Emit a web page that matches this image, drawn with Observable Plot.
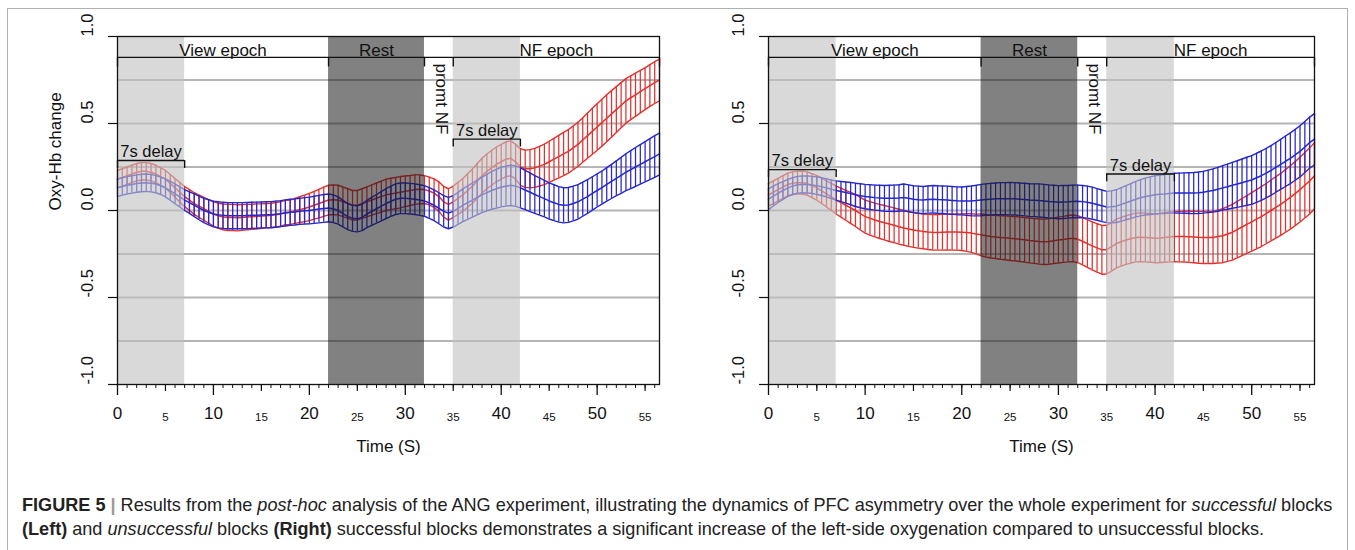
<!DOCTYPE html>
<html><head><meta charset="utf-8">
<script src="https://cdn.jsdelivr.net/npm/d3@7"></script>
<script src="https://cdn.jsdelivr.net/npm/@observablehq/plot@0.6"></script>
<style>
body{margin:0;background:#fff;}
#wrap{position:relative;width:1355px;height:550px;overflow:hidden;font-family:"Liberation Sans",Arial,sans-serif;background:#fff;}
#frame{position:absolute;left:7px;top:8px;width:1341px;height:620px;border:1.5px solid #b0b0b0;box-sizing:border-box;}
#left{position:absolute;left:0;top:0;}
#right{position:absolute;left:680px;top:0;}
#caption{position:absolute;left:22px;top:494px;font-size:18.1px;line-height:23.5px;color:#222;white-space:nowrap;}
#caption .sep{color:#9a9a9a;}
</style></head>
<body><div id="wrap"><div id="frame"></div><div id="left"></div><div id="right"></div>
<div id="caption"><b>FIGURE 5</b> <b class="sep">|</b> Results from the <i>post-hoc</i> analysis of the ANG experiment, illustrating the dynamics of PFC asymmetry over the whole experiment for <i>successful</i> blocks<br><b>(Left)</b> and <i>unsuccessful</i> blocks <b>(Right)</b> successful blocks demonstrates a significant increase of the left-side oxygenation compared to unsuccessful blocks.</div>
</div>
<script>
// ---- data (time in s, values = Oxy-Hb change; err = half-width of error bar) ----
const time = [
0,0.5,1,1.5,2,2.5,3,3.5,4,4.5,
5,5.5,6,6.5,7,7.5,8,8.5,9,9.5,
10,10.5,11,11.5,12,12.5,13,13.5,14,14.5,
15,15.5,16,16.5,17,17.5,18,18.5,19,19.5,
20,20.5,21,21.5,22,22.5,23,23.5,24,24.5,
25,25.5,26,26.5,27,27.5,28,28.5,29,29.5,
30,30.5,31,31.5,32,32.5,33,33.5,34,34.5,
35,35.5,36,36.5,37,37.5,38,38.5,39,39.5,
40,40.5,41,41.5,42,42.5,43,43.5,44,44.5,
45,45.5,46,46.5,47,47.5,48,48.5,49,49.5,
50,50.5,51,51.5,52,52.5,53,53.5,54,54.5,
55,55.5,56,56.5];

const leftRedMean = [
.18,.19,.20,.21,.22,.225,.225,.22,.21,.195,
.18,.155,.13,.105,.08,.06,.04,.025,.01,-.005,
-.02,-.03,-.037,-.04,-.04,-.042,-.04,-.038,-.036,-.034,
-.032,-.03,-.028,-.024,-.02,-.012,-.01,-.002,.005,.012,
.02,.03,.04,.05,.06,.062,.06,.05,.04,.03,
.03,.04,.05,.06,.07,.08,.09,.095,.10,.105,
.11,.115,.12,.122,.12,.112,.10,.08,.05,.035,
.05,.07,.09,.115,.14,.17,.20,.225,.245,.265,
.28,.295,.30,.28,.25,.24,.24,.245,.255,.265,
.28,.295,.31,.325,.34,.36,.38,.405,.43,.455,
.48,.505,.53,.555,.58,.605,.63,.648,.665,.683,
.70,.718,.735,.75];
const leftRedErr = [
.05,.05,.05,.05,.05,.05,.05,.05,.05,.05,
.05,.052,.054,.056,.058,.06,.062,.064,.066,.068,
.07,.072,.074,.075,.075,.075,.074,.073,.072,.072,
.07,.07,.07,.07,.07,.07,.07,.072,.074,.076,
.078,.08,.082,.084,.085,.085,.085,.085,.085,.085,
.085,.085,.086,.087,.088,.089,.09,.09,.09,.09,
.088,.086,.085,.083,.08,.08,.082,.085,.088,.09,
.09,.092,.094,.096,.098,.10,.10,.10,.10,.10,
.10,.10,.10,.10,.105,.107,.11,.112,.114,.116,
.118,.12,.122,.124,.125,.126,.127,.128,.13,.132,
.134,.135,.135,.134,.132,.13,.128,.126,.124,.122,
.12,.12,.12,.12];
const leftBlueMean = [
.13,.138,.145,.15,.155,.158,.16,.157,.152,.142,
.13,.113,.095,.078,.06,.045,.03,.015,.0,-.01,
-.02,-.025,-.028,-.03,-.03,-.03,-.03,-.029,-.028,-.027,
-.026,-.025,-.024,-.021,-.018,-.014,-.01,-.008,-.005,-.002,
.0,.004,.008,.012,.015,.01,.0,-.018,-.035,-.045,
-.048,-.04,-.02,-.005,.01,.025,.04,.053,.065,.07,
.07,.068,.065,.06,.055,.043,.03,.013,-.005,-.015,
-.005,.012,.03,.045,.06,.075,.09,.103,.115,.125,
.135,.14,.145,.14,.13,.118,.105,.092,.08,.068,
.055,.045,.035,.03,.032,.04,.05,.065,.08,.098,
.115,.132,.15,.167,.185,.202,.22,.235,.25,.265,
.28,.295,.31,.325];
const leftBlueErr = [
.05,.05,.05,.05,.05,.05,.05,.05,.05,.05,
.052,.054,.056,.058,.06,.062,.065,.068,.07,.072,
.074,.075,.075,.075,.075,.075,.075,.075,.075,.075,
.075,.075,.075,.075,.075,.075,.075,.075,.075,.076,
.077,.078,.079,.08,.08,.08,.078,.076,.075,.075,
.075,.076,.078,.08,.082,.084,.086,.087,.088,.088,
.088,.088,.088,.088,.088,.088,.088,.089,.09,.09,
.09,.092,.094,.096,.098,.10,.102,.105,.108,.111,
.114,.115,.116,.116,.115,.113,.111,.109,.107,.105,
.104,.103,.102,.101,.10,.10,.099,.098,.097,.096,
.095,.095,.096,.098,.10,.103,.106,.109,.112,.114,
.116,.118,.12,.12];

const rightRedMean = [
.09,.105,.12,.135,.15,.157,.16,.16,.155,.143,
.13,.113,.095,.078,.06,.045,.03,.015,.0,-.018,
-.035,-.045,-.055,-.063,-.07,-.078,-.085,-.093,-.10,-.106,
-.112,-.116,-.12,-.123,-.125,-.126,-.125,-.124,-.124,-.124,
-.125,-.127,-.13,-.135,-.14,-.145,-.15,-.152,-.155,-.157,
-.16,-.162,-.165,-.168,-.172,-.175,-.178,-.18,-.178,-.174,
-.17,-.166,-.162,-.16,-.165,-.177,-.19,-.203,-.215,-.226,
-.225,-.208,-.19,-.18,-.17,-.162,-.155,-.154,-.155,-.157,
-.16,-.158,-.155,-.152,-.15,-.15,-.15,-.151,-.152,-.154,
-.155,-.155,-.155,-.15,-.145,-.135,-.125,-.11,-.095,-.08,
-.065,-.05,-.035,-.018,.0,.018,.035,.055,.075,.097,
.12,.145,.17,.2];
const rightRedErr = [
.065,.065,.065,.065,.065,.065,.065,.066,.067,.069,
.071,.073,.075,.078,.08,.083,.086,.089,.092,.094,
.095,.096,.097,.098,.099,.10,.10,.10,.10,.10,
.10,.10,.10,.101,.102,.102,.103,.103,.104,.104,
.105,.108,.111,.114,.12,.122,.123,.124,.125,.126,
.127,.127,.128,.128,.129,.129,.13,.13,.131,.131,
.132,.132,.133,.134,.135,.136,.137,.138,.139,.14,
.14,.14,.14,.14,.14,.14,.14,.14,.14,.14,
.14,.141,.142,.143,.144,.145,.146,.147,.148,.149,
.15,.15,.15,.152,.155,.157,.16,.162,.164,.166,
.168,.17,.172,.173,.175,.177,.178,.18,.182,.184,
.186,.188,.19,.19];
const rightBlueMean = [
.065,.083,.10,.115,.13,.14,.148,.15,.15,.147,
.143,.137,.13,.122,.115,.109,.103,.097,.09,.085,
.08,.077,.074,.072,.07,.07,.07,.072,.075,.07,
.065,.062,.06,.063,.065,.063,.062,.06,.058,.056,
.055,.055,.055,.057,.06,.063,.065,.067,.068,.068,
.068,.067,.065,.063,.06,.059,.058,.055,.052,.05,
.048,.049,.05,.052,.053,.051,.048,.042,.035,.027,
.02,.021,.025,.035,.045,.055,.065,.073,.08,.085,
.09,.093,.095,.098,.10,.10,.10,.10,.10,.102,
.105,.11,.115,.122,.13,.137,.145,.152,.16,.168,
.175,.188,.20,.215,.23,.248,.265,.283,.30,.32,
.34,.365,.39,.41];
const rightBlueErr = [
.06,.057,.054,.051,.049,.048,.048,.048,.049,.049,
.05,.051,.052,.053,.055,.058,.061,.064,.067,.069,
.07,.071,.072,.073,.074,.075,.076,.076,.077,.077,
.077,.078,.078,.078,.079,.079,.079,.08,.08,.08,
.08,.083,.086,.088,.09,.09,.091,.091,.092,.092,
.093,.093,.093,.094,.094,.094,.095,.095,.095,.095,
.095,.095,.094,.094,.093,.093,.092,.092,.091,.091,
.09,.092,.094,.096,.098,.10,.102,.104,.106,.108,
.11,.111,.112,.113,.114,.115,.116,.117,.118,.119,
.12,.122,.124,.126,.128,.13,.132,.134,.136,.138,
.14,.141,.142,.142,.143,.143,.144,.145,.146,.146,
.147,.147,.147,.147];

const gridLevels = [-0.75,-0.5,-0.25,0,0.25,0.5,0.75];
const yTicks = [-1,-0.5,0,0.5,1];
const yTickLabels = ["-1.0","-0.5","0.0","0.5","1.0"];
const xMajor = [0,10,20,30,40,50];
const xMid = [5,15,25,35,45,55];
const xMinor = [0,1,2,3,4,5,6,7,8,9,10,11,12,13,14,15,16,17,18,19,20,21,22,23,24,25,26,27,28,29,30,31,32,33,34,35,36,37,38,39,40,41,42,43,44,45,46,47,48,49,50,51,52,53,54,55,56];
const shades = [{x1:0,x2:7,kind:"light"},{x1:22,x2:32,kind:"dark"},{x1:35,x2:42,kind:"light"}];
const epochs = [{label:"View epoch",x:11},{label:"Rest",x:27},{label:"NF epoch",x:45.75}];
const epochBounds = [0,22,32,35,56.5];
const delaysLeft = [{x1:0,x2:7,y:0.287},{x1:35,x2:42,y:0.41}];
const delaysRight = [{x1:0,x2:7,y:0.235},{x1:35,x2:42,y:0.21}];

const RED = "#e2302d", BLUE = "#2626cc";
const FONT = "'Liberation Sans', Arial, Helvetica, sans-serif";

function rows(mean, err) {
  return time.map((t, i) => ({t, m: mean[i], lo: mean[i] - err[i], hi: mean[i] + err[i]}));
}
function band(data, color) {
  return [
    Plot.ruleX(data, {x: "t", y1: "lo", y2: "hi", stroke: color, strokeWidth: 1.25, strokeOpacity: 1}),
    Plot.line(data, {x: "t", y: "hi", stroke: color, strokeWidth: 1.4}),
    Plot.line(data, {x: "t", y: "lo", stroke: color, strokeWidth: 1.4}),
    Plot.line(data, {x: "t", y: "m", stroke: color, strokeWidth: 1.5})
  ];
}

function panel({redMean, redErr, blueMean, blueErr, delays, width, marginLeft, marginRight, yTitle}) {
  const red = rows(redMean, redErr), blue = rows(blueMean, blueErr);
  const ends = delays.flatMap(d => [{x: d.x1, y: d.y}, {x: d.x2, y: d.y}]);
  const marks = [
    Plot.ruleY(gridLevels, {stroke: "#b4b4b4", strokeWidth: 2}),
    ...band(red, RED),
    ...band(blue, BLUE),
    Plot.rect(shades, {x1: "x1", x2: "x2", y1: () => -1, y2: () => 1,
      fill: d => d.kind === "dark" ? "#1a1a1a" : "#c2c2c2",
      fillOpacity: d => d.kind === "dark" ? 0.55 : 0.62}),
    Plot.frame({stroke: "#111", strokeWidth: 1.3}),
    // epoch header
    Plot.ruleY([0.88], {x1: () => 0, x2: () => 56.5, stroke: "#111", strokeWidth: 1.4}),
    Plot.ruleX(epochBounds, {y1: () => 0.825, y2: () => 0.88, stroke: "#111", strokeWidth: 1.4}),
    Plot.text(epochs, {x: "x", y: () => 0.918, text: "label", fontSize: 17, fill: "#111"}),
    Plot.text(["promt NF"], {x: () => 33.75, y: () => 0.845, text: d => d, rotate: 90, textAnchor: "start", fontSize: 17, fill: "#111"}),
    // 7s delay brackets
    Plot.ruleY(delays, {y: "y", x1: "x1", x2: "x2", stroke: "#111", strokeWidth: 1.4}),
    Plot.ruleX(ends, {x: "x", y1: "y", y2: d => d.y - 0.045, stroke: "#111", strokeWidth: 1.4}),
    Plot.text(delays, {x: d => (d.x1 + d.x2) / 2, y: d => d.y + 0.05, text: () => "7s delay", fontSize: 16.5, fill: "#111"}),
    // axes
    Plot.axisY(yTicks, {tickSize: 9, tickFormat: () => "", label: null, strokeWidth: 1.2}),
    Plot.text(yTicks, {y: d => d, text: (d, i) => yTickLabels[i], frameAnchor: "left", dx: -30, rotate: -90, fontSize: 16.5, fill: "#111"}),
    Plot.axisX(xMinor, {tickSize: 4, tickFormat: () => "", label: null}),
    Plot.axisX(xMid, {tickSize: 7, tickFormat: () => "", label: null, strokeWidth: 1.2}),
    Plot.axisX(xMajor, {tickSize: 11, tickFormat: () => "", label: null, strokeWidth: 1.3}),
    Plot.text(xMajor, {x: d => d, text: d => String(d), frameAnchor: "bottom", dy: 34, fontSize: 17, fill: "#111"}),
    Plot.text(xMid, {x: d => d, text: d => String(d), frameAnchor: "bottom", dy: 36, fontSize: 11.5, fill: "#111"}),
    Plot.text(["Time (S)"], {text: d => d, frameAnchor: "bottom", dy: 67, fontSize: 17, fill: "#111"})
  ];
  if (yTitle) marks.push(Plot.text([yTitle], {text: d => d, frameAnchor: "left", dx: -62, rotate: -90, fontSize: 17, fill: "#111"}));
  return Plot.plot({
    width, height: 470, marginTop: 36, marginBottom: 86, marginLeft, marginRight,
    x: {domain: [0, 56.5]},
    y: {domain: [-1, 1]},
    style: {fontFamily: FONT, fontSize: "16px", color: "#111", background: "transparent", overflow: "visible"},
    marks
  });
}

document.getElementById("left").append(panel({
  redMean: leftRedMean, redErr: leftRedErr, blueMean: leftBlueMean, blueErr: leftBlueErr,
  delays: delaysLeft, width: 680, marginLeft: 117, marginRight: 21, yTitle: "Oxy-Hb change"
}));
document.getElementById("right").append(panel({
  redMean: rightRedMean, redErr: rightRedErr, blueMean: rightBlueMean, blueErr: rightBlueErr,
  delays: delaysRight, width: 675, marginLeft: 88, marginRight: 41, yTitle: null
}));
</script>
</body></html>
